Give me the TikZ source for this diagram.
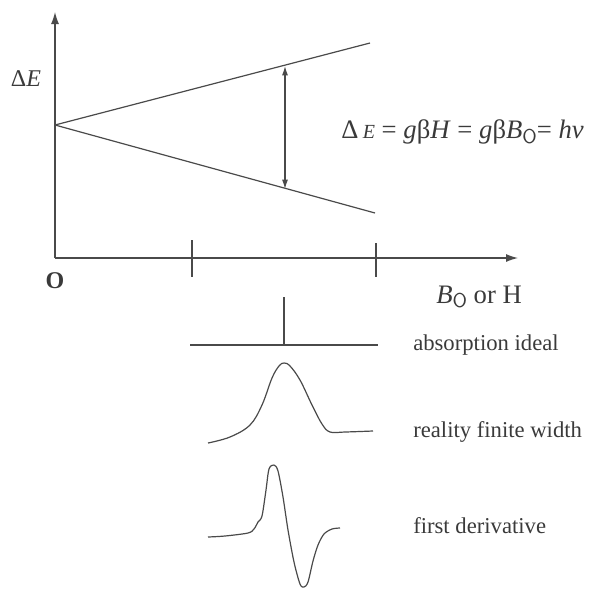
\documentclass[tikz,border=0pt]{standalone}
\usepackage{fontspec}
\setmainfont{Liberation Serif}
\usetikzlibrary{arrows.meta,positioning}
\definecolor{ink}{HTML}{4A4A4A}
\definecolor{txt}{HTML}{3A3A3A}

\tikzset{
  trace/.style={ink,line width=0.9pt,line join=round},
  axis/.style={ink,line width=0.9pt,-{Latex[length=9pt,width=6pt]}},
  lbl/.style={txt,font=\fontsize{17}{20}\selectfont,inner sep=0pt},
  big/.style={txt,font=\fontsize{20}{23}\selectfont,inner sep=0pt},
}
\newcommand{\subO}{\raisebox{-0.4ex}{\sffamily\fontsize{15}{17}\selectfont O}}

\begin{document}
\begin{tikzpicture}[x=0.75pt,y=-0.75pt]
  \useasboundingbox (0,0) rectangle (592,590);
  % energy levels versus field
  \coordinate (orig) at (55,258);
  \draw[axis] (orig) -- (55,12);
  \draw[axis] (orig) -- (518,258);
  \draw[trace] (192,240) -- (192,277);
  \draw[trace] (376,243) -- (376,277);
  \coordinate (split) at (55,125);
  \draw[trace] (split) -- (370,43);
  \draw[trace] (split) -- (375,213);
  \coordinate (up) at (285,66);
  \coordinate (lo) at (285,189);
  \draw[trace,{Latex[length=7pt,width=4.5pt]}-{Latex[length=7pt,width=4.5pt]}] (up) -- (lo);
  \node[lbl,font=\fontsize{18}{20}\selectfont] (dE) at (26,79) {Δ\textit{E}};
  \node[lbl,font=\fontsize{18}{20}\selectfont\bfseries] (zero) at (55,281) {O};
  \node[big,anchor=west] (eqn) at (341,132)
       {Δ\,{\fontsize{15}{17}\selectfont\textit{E}} = \textit{g}β\textit{H} = \textit{g}β\textit{B}\subO= \textit{hν}};
  \node[big,anchor=west] (field) at (436,297) {\textit{B}\subO{} or H};
  % spectra
  \draw[trace] (190,345) -- (378,345);
  \draw[trace] (284,297) -- (284,345);
  \draw[trace] plot[smooth,tension=0.6] coordinates {
    (208,443) (230,437) (250,425) (262,405) (272,378) (279,366) (284,363)
    (290,366) (300,380) (312,405) (322,424) (330,432) (345,432) (373,431)};
  \draw[trace] plot[smooth,tension=0.5] coordinates {
    (208,537) (225,536) (248,533) (254,529) (258,522) (262,516) (266,490)
    (269,469) (274,465) (278,471) (283,497) (288,530) (294,562) (300,584)
    (304,587) (308,582) (313,561) (318,545) (324,534) (332,529) (340,528)};
  \node[lbl,anchor=west] (ideal) at (413,345) {absorption ideal};
  \node[lbl,anchor=west] (real) at (413,432) {reality finite width};
  \node[lbl,anchor=west] (deriv) at (413,526) {first derivative};
\end{tikzpicture}
\end{document}
